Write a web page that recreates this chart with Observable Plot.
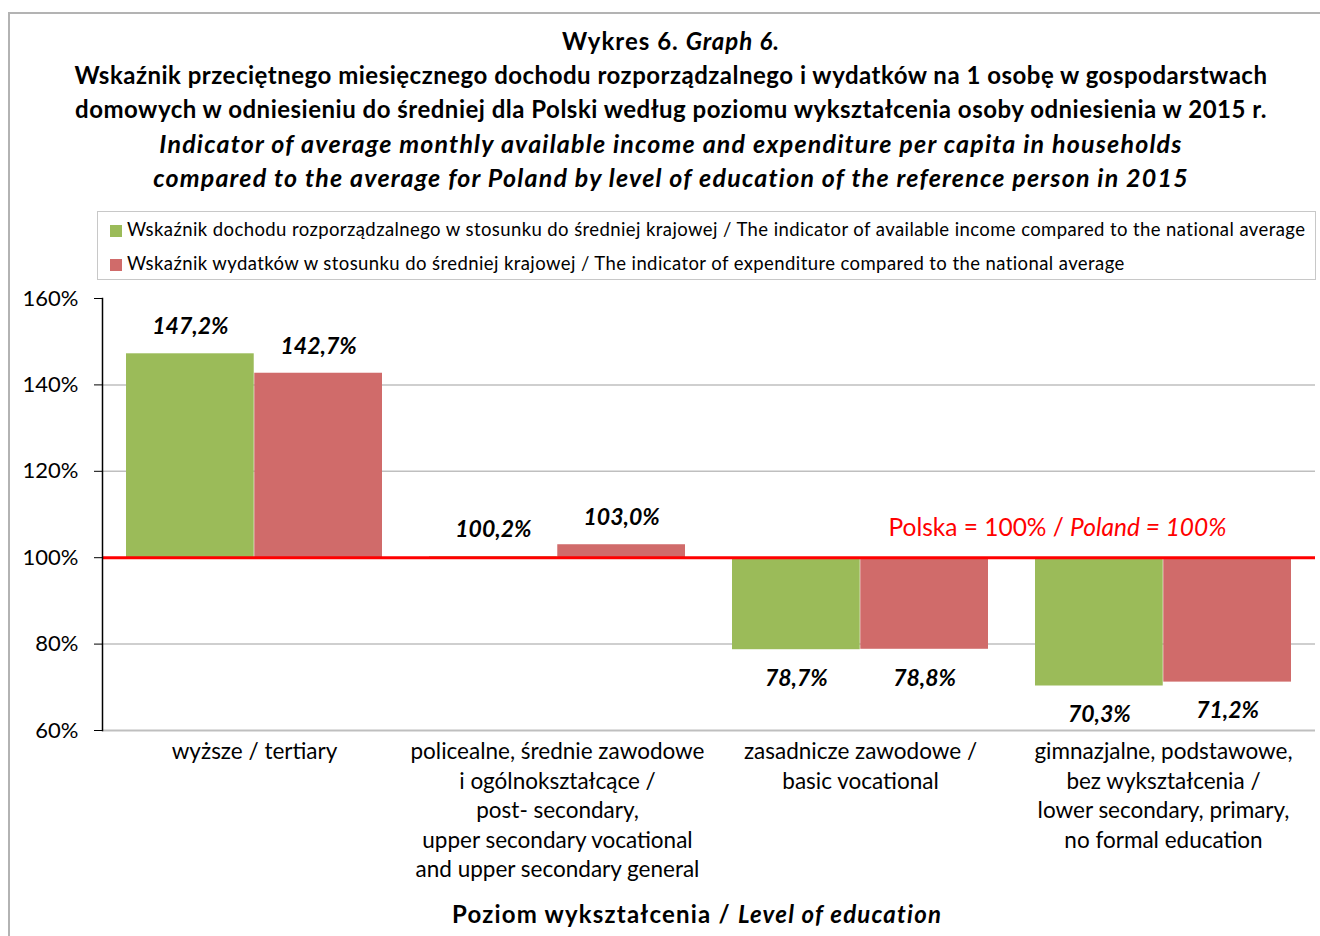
<!DOCTYPE html>
<html>
<head>
<meta charset="utf-8">
<script src="https://cdn.jsdelivr.net/npm/d3@7"></script>
<script src="https://cdn.jsdelivr.net/npm/@observablehq/plot@0.6"></script>
<style>
  html, body { margin: 0; padding: 0; background: #fff; }
  #wrap { position: relative; width: 1320px; height: 936px; overflow: hidden; background: #fff; font-family: Lato, "Open Sans", sans-serif; color: #000; }
  #frame { position: absolute; left: 8px; top: 12px; width: 1340px; height: 950px; border: 2px solid #b3b3b3; box-sizing: border-box; }
  #title { position: absolute; left: 20px; width: 1302px; top: 24px; text-align: center; font-weight: bold; line-height: 34px; white-space: nowrap; }
  #title .b { font-size: 24px; letter-spacing: 0.5px; }
  #title .h { font-size: 24px; letter-spacing: 1px; }
  #title .it { font-size: 25px; letter-spacing: 1.2px; font-style: italic; }
  #legend { position: absolute; left: 97px; top: 211px; width: 1219px; height: 69px; border: 1px solid #c8c8c8; box-sizing: border-box; font-size: 18.5px; letter-spacing: 0.41px; }
  .li { position: absolute; left: 12px; height: 20px; line-height: 20px; white-space: nowrap; }
  .sw { display: inline-block; width: 12px; height: 12px; margin-right: 5px; vertical-align: -1px; }
  #chart { position: absolute; left: 0; top: 280px; }
  #xtitle { position: absolute; left: 0; width: 1394px; top: 899px; text-align: center; font-weight: bold; font-size: 24px; letter-spacing: 1.2px; line-height: 30px; }
</style>
</head>
<body>
<div id="wrap">
  <div id="frame"></div>
  <div id="title">
    <div class="h">Wykres 6. <i>Graph 6.</i></div>
    <div class="b">Wskaźnik przeciętnego miesięcznego dochodu rozporządzalnego i wydatków na 1 osobę w gospodarstwach</div>
    <div class="b">domowych w odniesieniu do średniej dla Polski według poziomu wykształcenia osoby odniesienia w 2015 r.</div>
    <div class="it">Indicator of average monthly available income and expenditure per capita in households</div>
    <div class="it">compared to the average for Poland by level of education of the reference person in 2015</div>
  </div>
  <div id="legend"></div>
  <div id="chart"></div>
  <div id="xtitle">Poziom wykształcenia / <i>Level of education</i></div>
</div>
<script>
const categories = [
  "wyższe / tertiary",
  "policealne, średnie zawodowe\ni ogólnokształcące /\npost- secondary,\nupper secondary vocational\nand upper secondary general",
  "zasadnicze zawodowe /\nbasic vocational",
  "gimnazjalne, podstawowe,\nbez wykształcenia /\nlower secondary, primary,\nno formal education"
];
const incomeIndex = [147.2, 100.2, 78.7, 70.3];
const expenditureIndex = [142.7, 103.0, 78.8, 71.2];
const seriesNames = [
  "Wskaźnik dochodu rozporządzalnego w stosunku do średniej krajowej / The indicator of available income compared to the national average",
  "Wskaźnik wydatków w stosunku do średniej krajowej / The indicator of expenditure compared to the national average"
];
const seriesColors = ["#9bbb59", "#d06b6a"];
const baseline = 100;
const yTicks = [60, 80, 100, 120, 140, 160];
const gridTicks = [80, 120, 140];
const refLabel = ["Polska = 100% / ", "Poland = 100%"];

// legend
const legend = document.getElementById("legend");
seriesNames.forEach((name, i) => {
  const d = document.createElement("div");
  d.className = "li";
  d.style.top = (i === 0 ? 7 : 41) + "px";
  d.innerHTML = `<span class="sw" style="background:${seriesColors[i]}"></span>${name}`;
  legend.appendChild(d);
});

const rows = categories.map((c, i) => ({cat: c, income: incomeIndex[i], expenditure: expenditureIndex[i]}));
const fmt = v => v.toFixed(1).replace(".", ",") + "%";

const W = 1320, H = 656, mL = 102, mR = 5, mT = 18, mB = 206;
const pInner = 0.154, pOuter = 0.077;
const step = (W - mL - mR) / (categories.length - pInner + 2 * pOuter);
const half = step * (1 - pInner) / 2;
const off = half / 2;
const font = "Lato, 'Open Sans', sans-serif";

const labelStyle = {fontSize: 23, fontWeight: "bold", fontStyle: "italic", fill: "#000", fontFamily: font};

const chart = Plot.plot({
  width: W, height: H,
  marginLeft: mL, marginRight: mR, marginTop: mT, marginBottom: mB,
  style: {fontFamily: font, background: "transparent", overflow: "visible"},
  x: {domain: categories, paddingInner: pInner, paddingOuter: pOuter, axis: null},
  y: {domain: [60, 160], axis: null},
  marks: [
    Plot.gridY(gridTicks, {stroke: "#bfbfbf", strokeOpacity: 1, strokeWidth: 1.5}),
    Plot.ruleY([60], {stroke: "#bfbfbf", strokeWidth: 2}),
    Plot.barY(rows, {x: "cat", y1: baseline, y2: "income", fill: seriesColors[0], insetRight: half}),
    Plot.barY(rows, {x: "cat", y1: baseline, y2: "expenditure", fill: seriesColors[1], insetLeft: half}),
    Plot.ruleY([baseline], {stroke: "#ff0000", strokeWidth: 3}),
    Plot.frame({anchor: "left", stroke: "#000", strokeWidth: 1.5}),
    Plot.axisY({ticks: yTicks, tickFormat: d => d + "%", tickSize: 8, tickPadding: 16, fontSize: 22, stroke: "#000"}),
    Plot.axisX({tickSize: 0, tickPadding: 8, fontSize: 22.5, lineHeight: 1.31, lineAnchor: "top", label: null, fontFamily: font}),
    Plot.text(rows.filter(d => d.income >= baseline), {x: "cat", y: "income", text: d => fmt(d.income), dx: -off, dy: -27, ...labelStyle}),
    Plot.text(rows.filter(d => d.income < baseline), {x: "cat", y: "income", text: d => fmt(d.income), dx: -off, dy: 29, ...labelStyle}),
    Plot.text(rows.filter(d => d.expenditure >= baseline), {x: "cat", y: "expenditure", text: d => fmt(d.expenditure), dx: off, dy: -27, ...labelStyle}),
    Plot.text(rows.filter(d => d.expenditure < baseline), {x: "cat", y: "expenditure", text: d => fmt(d.expenditure), dx: off, dy: 29, ...labelStyle}),
    Plot.text([{cat: categories[2], v: baseline, label: refLabel.join("")}], {x: "cat", y: "v", text: "label", dx: 197, dy: -30, fontSize: 24.5, fill: "#ff0000", className: "reflabel", fontFamily: font})
  ]
});
document.getElementById("chart").appendChild(chart);

// split the reference label into regular + italic parts
d3.select(chart).selectAll(".reflabel text").each(function() {
  const t = d3.select(this);
  t.text(null);
  t.append("tspan").text(refLabel[0]);
  t.append("tspan").attr("font-style", "italic").text(refLabel[1]);
});
</script>
</body>
</html>
